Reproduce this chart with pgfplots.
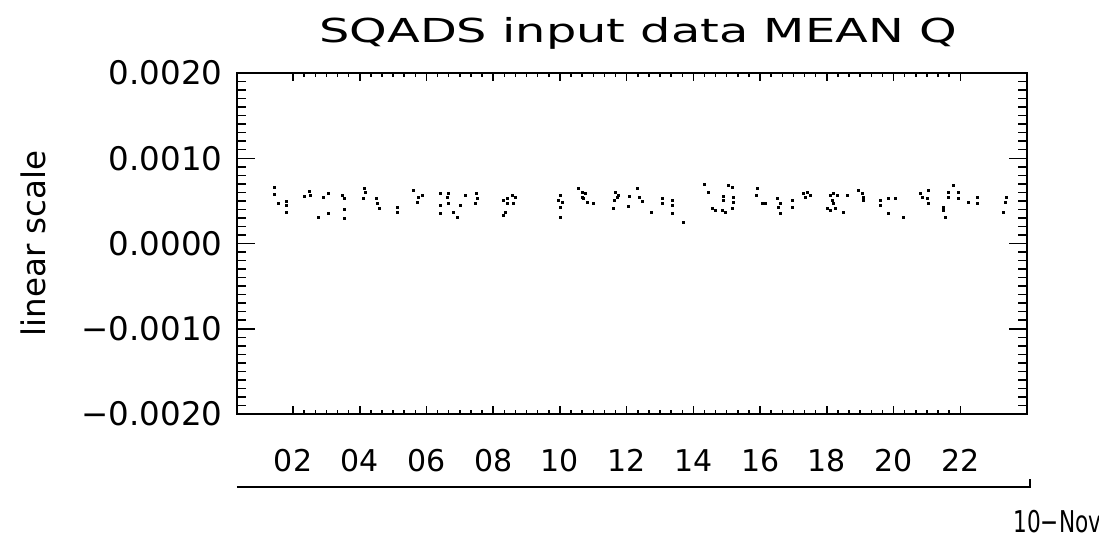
\documentclass[border=0pt]{standalone}
\usepackage{fontspec}
\setmainfont{DejaVu Sans}
\newfontfamily\titlefont[FakeStretch=1.45]{DejaVu Sans}
\newfontfamily\narrowfont[FakeStretch=0.72]{DejaVu Sans}
\usepackage{pgfplots}
\pgfplotsset{compat=1.18}

\begin{document}
\begin{tikzpicture}[x=1pt,y=1pt]
\useasboundingbox (-94.8pt,-49.6pt) rectangle (344.8pt,165.6pt);

% y ticks, frame and data
\begin{axis}[
	at={(0,0)}, anchor=south west,
	scale only axis,
	width=316pt, height=136.4pt,
	xmin=0.32, xmax=24,
	ymin=-0.002, ymax=0.002,
	axis line style={line width=0.8pt},
	xtick=\empty,
	ytick={-0.002,-0.001,0,0.001,0.002},
	yticklabels={−0.0020,−0.0010,0.0000,0.0010,0.0020},
	scaled y ticks=false,
	minor y tick num=9,
	major tick length=7.2pt,
	minor tick length=3.6pt,
	tick style={line width=0.6pt, black},
	yticklabel style={font=\fontsize{13}{13}\selectfont, inner sep=0pt, anchor=east},
	yticklabel shift=5.6pt,
	clip=false]

\addplot[only marks, mark=square*, mark size=0.4pt, black] coordinates {
(1.43,0.00066) (1.43,0.00058) (1.55,0.00047) (1.79,0.00049) (1.79,0.00045) (1.79,0.00036)
(2.33,0.00055) (2.48,0.00061) (2.51,0.00056) (2.75,0.00031) (3.05,0.00035) (2.90,0.00054)
(3.05,0.00059) (3.47,0.00056) (3.53,0.00053) (3.53,0.00040) (3.53,0.00029)
(4.13,0.00065) (4.10,0.00053) (4.16,0.00060) (4.49,0.00053) (4.52,0.00047) (4.58,0.00041)
(5.12,0.00042) (5.12,0.00036) (5.60,0.00062) (5.75,0.00054) (5.87,0.00056) (5.72,0.00048)
(6.41,0.00059) (6.65,0.00059) (6.62,0.00054) (6.65,0.00047) (6.41,0.00045) (6.41,0.00035)
(6.80,0.00036) (6.92,0.00031) (7.01,0.00045) (7.16,0.00056)
(7.49,0.00059) (7.52,0.00053) (7.46,0.00047)
(8.30,0.00051) (8.42,0.00053) (8.57,0.00056) (8.66,0.00054) (8.42,0.00047) (8.60,0.00047)
(8.36,0.00036) (8.30,0.00033)
(10.01,0.00056) (9.95,0.00051) (10.07,0.00048) (10.01,0.00042) (10.01,0.00031)
(10.55,0.00064) (10.67,0.00060) (10.76,0.00059) (10.70,0.00053) (10.82,0.00048)
(11.00,0.00047) (10.67,0.00054)
(11.66,0.00060) (11.72,0.00054) (11.60,0.00041) (11.75,0.00056) (11.63,0.00051)
(12.10,0.00055) (12.07,0.00044) (12.31,0.00065) (12.37,0.00054) (12.46,0.00049)
(12.73,0.00036) (13.06,0.00053) (13.06,0.00047) (13.36,0.00051) (13.36,0.00045)
(13.36,0.00035) (13.69,0.00025)
(14.32,0.00069) (14.44,0.00060) (14.89,0.00055) (14.89,0.00051) (15.04,0.00068)
(15.16,0.00066) (14.56,0.00041) (14.86,0.00039) (14.95,0.00036) (15.16,0.00041)
(15.19,0.00048) (15.19,0.00054) (14.65,0.00039)
(15.91,0.00065) (15.88,0.00056) (16.06,0.00047) (16.15,0.00047)
(16.51,0.00053) (16.60,0.00047) (16.54,0.00042) (16.60,0.00035) (16.96,0.00051) (16.96,0.00042)
(17.29,0.00059) (17.41,0.00060) (17.50,0.00056) (17.35,0.00054)
(18.10,0.00056) (18.19,0.00059) (18.31,0.00056) (18.16,0.00051) (18.19,0.00047)
(18.01,0.00041) (18.10,0.00039) (18.25,0.00041) (18.49,0.00036) (18.61,0.00056)
(18.94,0.00062) (19.06,0.00059) (19.09,0.00054) (19.09,0.00051)
(19.60,0.00051) (19.60,0.00045) (19.84,0.00053) (20.05,0.00053) (19.84,0.00035) (20.29,0.00031)
(20.80,0.00059) (20.86,0.00054) (21.04,0.00062) (21.04,0.00047) (21.01,0.00053)
(21.64,0.00060) (21.64,0.00054) (21.79,0.00068) (21.94,0.00060) (21.94,0.00053)
(21.49,0.00039) (21.55,0.00031) (21.49,0.00042)
(22.24,0.00048) (22.51,0.00054) (22.51,0.00047)
(23.40,0.00054) (23.37,0.00048) (23.31,0.00036)
};

\node[anchor=base, inner sep=0pt, font=\titlefont\fontsize{13.2}{13.2}\selectfont]
	at (rel axis cs:0.5076,1) [yshift=12.4pt] {SQADS input data MEAN Q};
\node[rotate=90, inner sep=0pt, font=\fontsize{13}{13}\selectfont]
	at ([xshift=-81.6pt]rel axis cs:0,0.5) {linear scale};
\end{axis}

% x ticks
\begin{axis}[
	at={(0,0)}, anchor=south west,
	scale only axis,
	width=316pt, height=136.4pt,
	xmin=0.32, xmax=24,
	ymin=-0.002, ymax=0.002,
	axis line style={line width=0.8pt},
	ytick=\empty,
	xtick={2,4,...,22},
	xticklabels={02,04,06,08,10,12,14,16,18,20,22},
	minor x tick num=5,
	major tick length=3.2pt,
	minor tick length=1.6pt,
	tick style={line width=0.6pt, black},
	xticklabel style={font=\fontsize{12}{12}\selectfont, inner sep=0pt, anchor=base},
	xticklabel shift=22.8pt,
	clip=false]
\draw[line width=0.7pt] (rel axis cs:0,0) ++(0pt,-29.2pt) -- ++(317.2pt,0pt) -- ++(0pt,3.2pt);
\node[anchor=base west, inner sep=0pt, font=\narrowfont\fontsize{12}{12}\selectfont]
	at (rel axis cs:0,0) [xshift=310.4pt, yshift=-47.2pt] {10−Nov};
\end{axis}
\end{tikzpicture}
\end{document}
